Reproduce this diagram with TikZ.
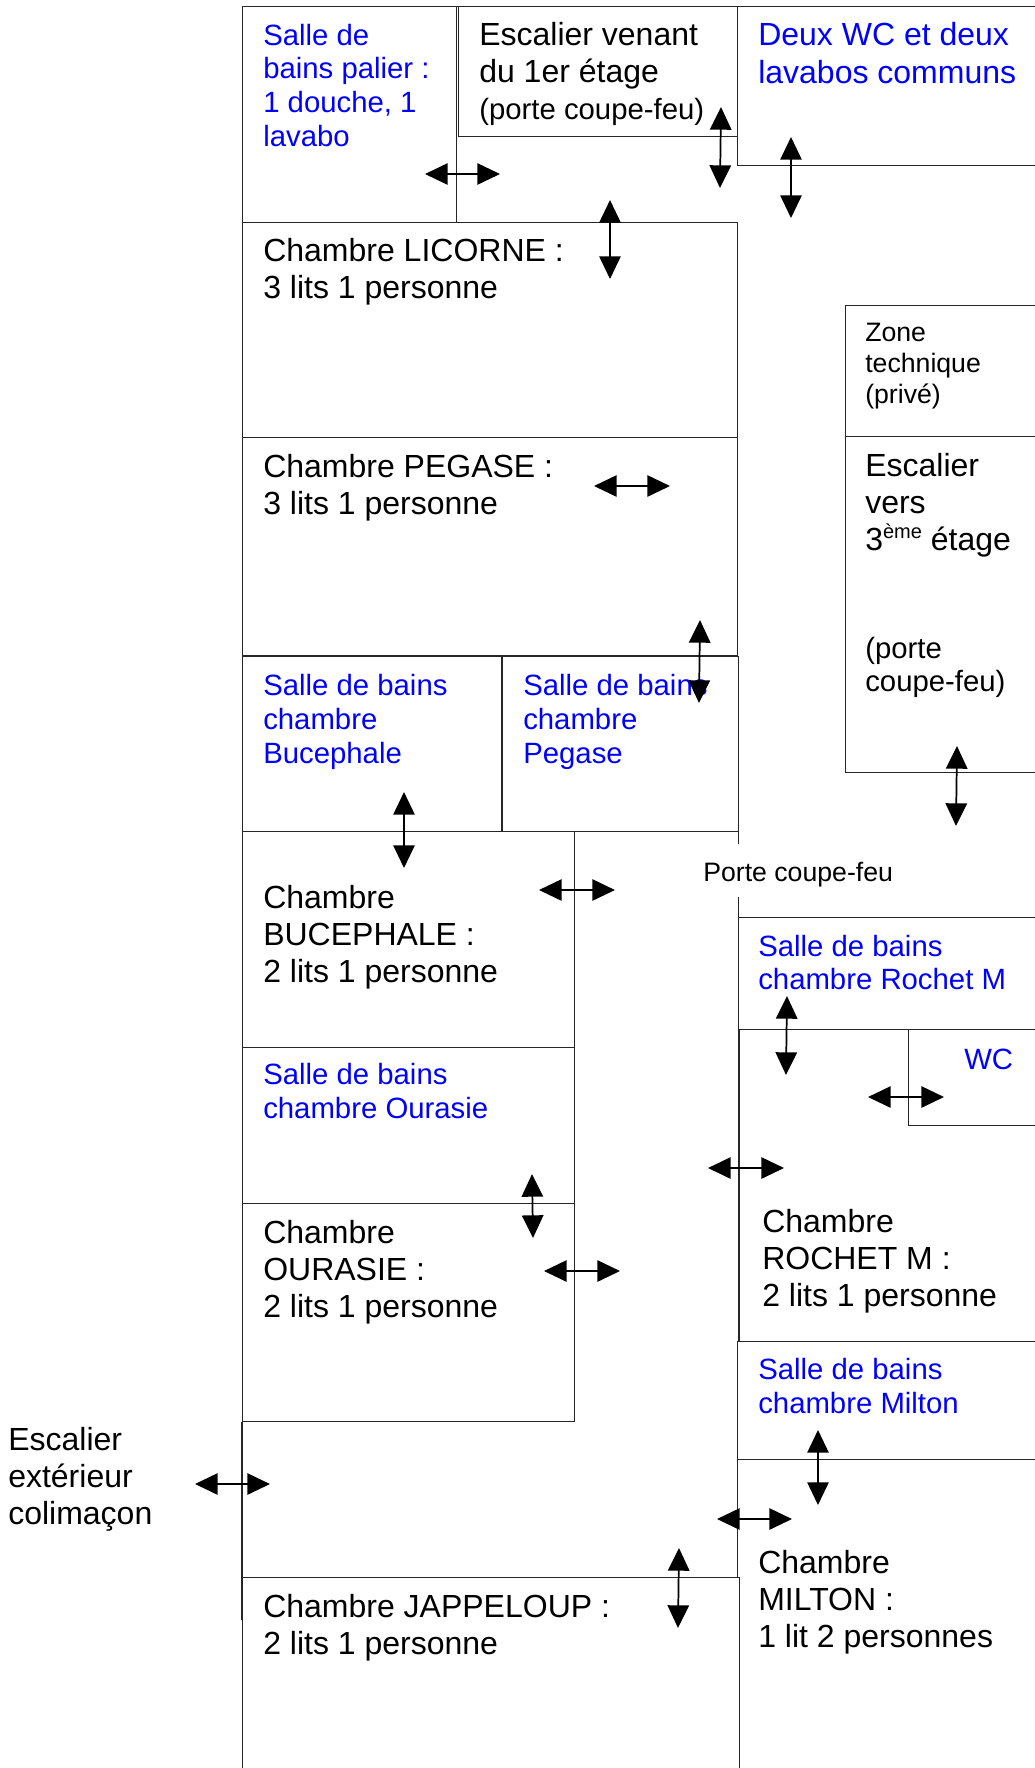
\documentclass[tikz,border=0pt]{standalone}
\usepackage{fontspec}
\setmainfont{Liberation Sans}
\usetikzlibrary{arrows.meta}
\tikzset{
    mur/.style={line width=0.7pt,black!85},
    murfort/.style={line width=1.2pt,black!85},
    porte/.style={line width=1.3pt,{Triangle[length=17pt,width=16pt]}-{Triangle[length=17pt,width=16pt]}},
    texte/.style={anchor=north west,inner sep=0pt,align=left},
    piece/.style={texte,font=\fontsize{24}{27.75}\selectfont},
    bain/.style={texte,blue,font=\fontsize{22}{25.3}\selectfont},
    bainlarge/.style={texte,blue,font=\fontsize{24}{28.5}\selectfont},
    note/.style={texte,font=\fontsize{20}{23.2}\selectfont},
    notelarge/.style={texte,font=\fontsize{22}{25}\selectfont}
}
\begin{document}
\begin{tikzpicture}[x=0.75pt,y=-0.75pt]
    \useasboundingbox (0,0) rectangle (1035,1768);

    \draw[mur] (242,6) -- (1035,6) (242,6) -- (242,1768);
    \draw[mur] (242,6) rectangle (456,222);
    \draw[mur] (458,6) rectangle (737,136);
    \draw[mur] (737,6) -- (737,165) -- (1035,165);
    \draw[mur] (242,222) rectangle (737,437.5);
    \draw[mur] (242,437.5) rectangle (737,656);
    \draw[mur] (242,656) rectangle (502,831);
    \draw[mur] (502,656) rectangle (738,831);
    \draw[murfort] (242,656) -- (738,656);
    \draw[murfort] (502,656) -- (502,831);
    \draw[mur] (242,831) rectangle (574.5,1047);
    \draw[mur] (242,1047) rectangle (574.5,1203);
    \draw[mur] (242,1203) rectangle (574.5,1421.5);
    \draw[mur] (242,1577) -- (739,1577) -- (739,1768);
    \draw[murfort] (242,1421.5) -- (242,1620);
    \draw[mur] (738,831) -- (738,844) (738,897) -- (738,917);
    \draw[mur] (1035,917) -- (738,917) -- (738,1029) -- (1035,1029);
    \draw[murfort] (739,1029) -- (739,1341);
    \draw[mur] (1035,1341) -- (737,1341) -- (737,1577);
    \draw[mur] (737,1459) -- (1035,1459);
    \draw[mur] (908,1030) -- (908,1125) -- (1035,1125);
    \draw[mur] (1035,305.5) -- (845,305.5) -- (845,772.5) -- (1035,772.5);
    \draw[mur] (845,436.5) -- (1035,436.5);

    \node[bain] (sdbpalier) at (263,23.5) {Salle de\\bains palier :\\1 douche, 1\\lavabo};
    \node[piece] (escalierbas) at (479,22.5) {Escalier venant\\du 1er étage\\{\fontsize{22}{26}\selectfont (porte coupe-feu)}};
    \node[bainlarge] (wccommuns) at (758,22.5) {Deux WC et deux\\lavabos communs};
    \node[piece] (licorne) at (263,238.5) {Chambre LICORNE :\\3 lits 1 personne};
    \node[piece] (pegase) at (263,454.5) {Chambre PEGASE :\\3 lits 1 personne};
    \node[bain] (sdbbucephale) at (263,674) {Salle de bains\\chambre\\Bucephale};
    \node[bain] (sdbpegase) at (523,674) {Salle de bains\\chambre\\Pegase};
    \node[piece] (bucephale) at (263,885) {Chambre\\BUCEPHALE :\\2 lits 1 personne};
    \node[bain] (sdbourasie) at (263,1063) {Salle de bains\\chambre Ourasie};
    \node[piece] (ourasie) at (263,1220.5) {Chambre\\OURASIE :\\2 lits 1 personne};
    \node[note] (zone) at (865,323) {Zone\\technique\\(privé)};
    \node[piece] (escalierhaut) at (865,453) {Escalier\\vers\\3\raisebox{9pt}{\fontsize{15}{15}\selectfont ème} étage};
    \node[notelarge] (portehaut) at (865,637) {(porte\\coupe-feu)};
    \node[note] (portefeu) at (703,862) {Porte coupe-feu};
    \node[bain] (sdbrochet) at (758,934.5) {Salle de bains\\chambre Rochet M};
    \node[bain] (wc) at (964,1049) {WC};
    \node[piece] (rochet) at (762,1209) {Chambre\\ROCHET M :\\2 lits 1 personne};
    \node[bain] (sdbmilton) at (758,1358) {Salle de bains\\chambre Milton};
    \node[piece] (milton) at (758,1550.5) {Chambre\\MILTON :\\1 lit 2 personnes};
    \node[piece] (jappeloup) at (263,1594) {Chambre JAPPELOUP :\\2 lits 1 personne};
    \node[piece] (colimacon) at (8,1427) {Escalier\\extérieur\\colimaçon};

    \coordinate (palierG) at (425,174); \coordinate (palierD) at (500,174);
    \coordinate (escalierH) at (721,107); \coordinate (escalierB) at (720,188);
    \coordinate (wcH) at (791,137); \coordinate (wcB) at (791,218);
    \coordinate (licorneH) at (610,200); \coordinate (licorneB) at (610,279);
    \coordinate (pegaseG) at (594,486); \coordinate (pegaseD) at (670,486);
    \coordinate (sdbpegaseH) at (700,620); \coordinate (sdbpegaseB) at (699,703);
    \coordinate (bucephaleH) at (404,792); \coordinate (bucephaleB) at (404,868);
    \coordinate (bucephaleG) at (539,890); \coordinate (bucephaleD) at (615,890);
    \coordinate (hautH) at (957,746); \coordinate (hautB) at (956,826);
    \coordinate (rochetH) at (787,996); \coordinate (rochetB) at (786,1075);
    \coordinate (wcG) at (868,1097); \coordinate (wcD) at (944,1097);
    \coordinate (rochetG) at (708,1168); \coordinate (rochetD) at (784,1168);
    \coordinate (ourasieH) at (532,1174); \coordinate (ourasieB) at (533,1238);
    \coordinate (ourasieG) at (544,1271); \coordinate (ourasieD) at (620,1271);
    \coordinate (colimaconG) at (195,1484); \coordinate (colimaconD) at (270,1484);
    \coordinate (miltonH) at (818,1430); \coordinate (miltonB) at (818,1505);
    \coordinate (miltonG) at (717,1519); \coordinate (miltonD) at (792,1519);
    \coordinate (jappeloupH) at (679,1548); \coordinate (jappeloupB) at (678,1628);

    \draw[porte] (palierG) -- (palierD);
    \draw[porte] (escalierH) -- (escalierB);
    \draw[porte] (wcH) -- (wcB);
    \draw[porte] (licorneH) -- (licorneB);
    \draw[porte] (pegaseG) -- (pegaseD);
    \draw[porte] (sdbpegaseH) -- (sdbpegaseB);
    \draw[porte] (bucephaleH) -- (bucephaleB);
    \draw[porte] (bucephaleG) -- (bucephaleD);
    \draw[porte] (hautH) -- (hautB);
    \draw[porte] (rochetH) -- (rochetB);
    \draw[porte] (wcG) -- (wcD);
    \draw[porte] (rochetG) -- (rochetD);
    \draw[porte] (ourasieH) -- (ourasieB);
    \draw[porte] (ourasieG) -- (ourasieD);
    \draw[porte] (colimaconG) -- (colimaconD);
    \draw[porte] (miltonH) -- (miltonB);
    \draw[porte] (miltonG) -- (miltonD);
    \draw[porte] (jappeloupH) -- (jappeloupB);
\end{tikzpicture}
\end{document}
